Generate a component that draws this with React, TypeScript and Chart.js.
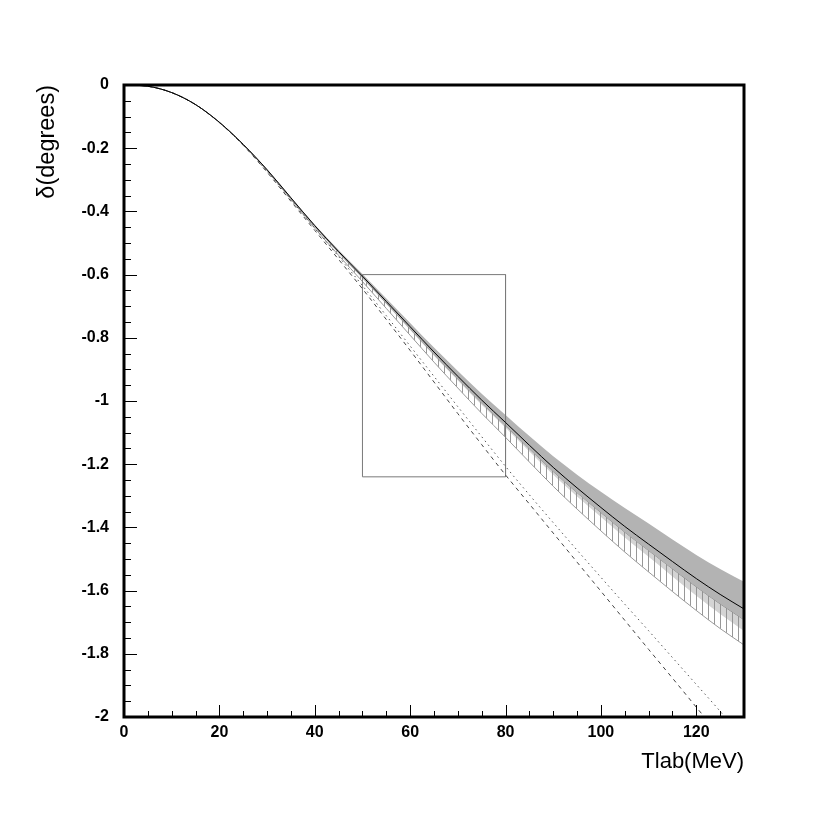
import React, { useEffect, useRef } from "react";
import { Chart, registerables } from "chart.js";

Chart.register(...registerables);

// Lab kinetic energy (MeV) sample points
const energies = [0, 5, 10, 15, 20, 25, 30, 35, 40, 45, 50, 55, 60, 65, 70, 75, 80, 85, 90, 95, 100, 105, 110, 115, 120, 125, 130];

// Central phase shift (degrees)
const centralPhase = [0, -0.004, -0.024, -0.062, -0.118, -0.188, -0.268, -0.357, -0.445, -0.527, -0.605, -0.685, -0.765, -0.845, -0.922, -0.997, -1.068, -1.14, -1.21, -1.275, -1.337, -1.397, -1.453, -1.508, -1.562, -1.612, -1.658];

// Dark gray error band
const grayUpper = [0, -0.004, -0.024, -0.062, -0.118, -0.188, -0.267, -0.355, -0.442, -0.522, -0.598, -0.676, -0.753, -0.831, -0.905, -0.977, -1.044, -1.111, -1.175, -1.233, -1.287, -1.339, -1.388, -1.438, -1.487, -1.532, -1.572];
const grayLower = [0, -0.004, -0.024, -0.062, -0.118, -0.188, -0.269, -0.359, -0.447, -0.53, -0.609, -0.69, -0.771, -0.852, -0.93, -1.006, -1.078, -1.151, -1.223, -1.29, -1.353, -1.415, -1.473, -1.531, -1.588, -1.642, -1.692];

// Light gray band lower edge (from central line)
const lightLower = [0, -0.004, -0.024, -0.062, -0.118, -0.188, -0.27, -0.36, -0.449, -0.533, -0.612, -0.693, -0.775, -0.857, -0.935, -1.012, -1.085, -1.16, -1.233, -1.302, -1.367, -1.432, -1.493, -1.555, -1.616, -1.674, -1.728];

// Hatched band lower edge (from central line)
const hatchLower = [0, -0.004, -0.024, -0.062, -0.118, -0.189, -0.271, -0.362, -0.453, -0.539, -0.622, -0.707, -0.792, -0.877, -0.959, -1.039, -1.115, -1.193, -1.27, -1.342, -1.411, -1.478, -1.541, -1.603, -1.663, -1.72, -1.772];

// Dashed curve
const dashedEnergies = [0, 5, 10, 15, 20, 25, 30, 35, 40, 45, 50, 55, 60, 65, 70, 75, 80, 85, 90, 95, 100, 105, 110, 115, 120, 121.7];
const dashedPhase = [0, -0.004, -0.024, -0.062, -0.119, -0.191, -0.276, -0.368, -0.46, -0.552, -0.645, -0.742, -0.84, -0.94, -1.04, -1.138, -1.234, -1.326, -1.418, -1.51, -1.602, -1.694, -1.786, -1.877, -1.969, -2.0];

// Dotted curve
const dottedEnergies = [0, 5, 10, 15, 20, 25, 30, 35, 40, 45, 50, 55, 60, 65, 70, 75, 80, 85, 90, 95, 100, 105, 110, 115, 120, 125, 126];
const dottedPhase = [0, -0.004, -0.024, -0.062, -0.119, -0.19, -0.273, -0.363, -0.453, -0.543, -0.635, -0.73, -0.826, -0.922, -1.018, -1.113, -1.207, -1.297, -1.385, -1.472, -1.558, -1.643, -1.727, -1.812, -1.897, -1.982, -2.0];

// Rectangle outline
const boxEnergies = [50, 80, 80, 50, 50];
const boxPhase = [-0.6, -0.6, -1.24, -1.24, -0.6];

// Axis ticks
const xTickValues = [0, 20, 40, 60, 80, 100, 120];
const xTickLabels = ["0", "20", "40", "60", "80", "100", "120"];
const xMinorTicks = [5, 10, 15, 25, 30, 35, 45, 50, 55, 65, 70, 75, 85, 90, 95, 105, 110, 115, 125];
const yTickValues = [0, -0.2, -0.4, -0.6, -0.8, -1, -1.2, -1.4, -1.6, -1.8, -2];
const yTickLabels = ["0", "-0.2", "-0.4", "-0.6", "-0.8", "-1", "-1.2", "-1.4", "-1.6", "-1.8", "-2"];
const yMinorTicks = [-0.05, -0.1, -0.15, -0.25, -0.3, -0.35, -0.45, -0.5, -0.55, -0.65, -0.7, -0.75, -0.85, -0.9, -0.95, -1.05, -1.1, -1.15, -1.25, -1.3, -1.35, -1.45, -1.5, -1.55, -1.65, -1.7, -1.75, -1.85, -1.9, -1.95];

const pts = (xs: number[], ys: number[]) => xs.map((x, i) => ({ x, y: ys[i] }));

const frameTicks = {
  id: "frameTicks",
  afterDatasetsDraw(chart: any) {
    const { ctx, chartArea: a, scales } = chart;
    const xs = scales.x;
    const ys = scales.y;
    ctx.save();
    ctx.strokeStyle = "#000";
    ctx.lineWidth = 1;
    ctx.beginPath();
    xTickValues.forEach((v) => {
      const px = Math.round(xs.getPixelForValue(v)) + 0.5;
      ctx.moveTo(px, a.bottom);
      ctx.lineTo(px, a.bottom - 12);
    });
    xMinorTicks.forEach((v) => {
      const px = Math.round(xs.getPixelForValue(v)) + 0.5;
      ctx.moveTo(px, a.bottom);
      ctx.lineTo(px, a.bottom - 6);
    });
    yTickValues.forEach((v) => {
      const py = Math.round(ys.getPixelForValue(v)) + 0.5;
      ctx.moveTo(a.left, py);
      ctx.lineTo(a.left + 13, py);
    });
    yMinorTicks.forEach((v) => {
      const py = Math.round(ys.getPixelForValue(v)) + 0.5;
      ctx.moveTo(a.left, py);
      ctx.lineTo(a.left + 7, py);
    });
    ctx.stroke();
    ctx.lineWidth = 3;
    ctx.strokeRect(a.left, a.top, a.right - a.left, a.bottom - a.top);
    ctx.restore();
  },
};

export default function App() {
  const canvasRef = useRef<HTMLCanvasElement | null>(null);

  useEffect(() => {
    const canvas = canvasRef.current;
    if (!canvas) return;
    const ctx = canvas.getContext("2d");
    if (!ctx) return;

    const pc = document.createElement("canvas");
    pc.width = 6;
    pc.height = 6;
    const pctx = pc.getContext("2d")!;
    pctx.fillStyle = "rgba(140,140,140,0.9)";
    pctx.fillRect(0, 0, 1, 6);
    const hatch = ctx.createPattern(pc, "repeat");

    const base = {
      pointRadius: 0,
      cubicInterpolationMode: "monotone" as const,
    };

    const chart = new Chart(ctx, {
      type: "line",
      data: {
        datasets: [
          // 0 central line
          { ...base, data: pts(energies, centralPhase), borderColor: "#000", borderWidth: 1, fill: false, order: 0 },
          // 1 dashed
          { ...base, data: pts(dashedEnergies, dashedPhase), borderColor: "#444", borderWidth: 1, borderDash: [4, 4], fill: false, order: 0 },
          // 2 dotted
          { ...base, data: pts(dottedEnergies, dottedPhase), borderColor: "#555", borderWidth: 1, borderDash: [1.5, 3.5], fill: false, order: 0 },
          // 3 rectangle
          { pointRadius: 0, data: pts(boxEnergies, boxPhase), borderColor: "#7a7a7a", borderWidth: 1, fill: false, tension: 0, order: 0 },
          // 4 gray band upper -> fill to 5
          { ...base, data: pts(energies, grayUpper), borderWidth: 0, borderColor: "rgba(0,0,0,0)", backgroundColor: "#b3b3b3", fill: 5, order: 1 },
          // 5 gray band lower edge
          { ...base, data: pts(energies, grayLower), borderWidth: 1, borderColor: "#8c8c8c", fill: false, order: 1 },
          // 6 hatched band lower -> fill to 7
          { ...base, data: pts(energies, hatchLower), borderWidth: 1, borderColor: "#999", backgroundColor: hatch as any, fill: 7, order: 2 },
          // 7 hatched band top (central)
          { ...base, data: pts(energies, centralPhase), borderWidth: 0, borderColor: "rgba(0,0,0,0)", fill: false, order: 2 },
          // 8 light gray band lower -> fill to 9
          { ...base, data: pts(energies, lightLower), borderWidth: 0, borderColor: "rgba(0,0,0,0)", backgroundColor: "#d4d4d4", fill: 9, order: 3 },
          // 9 light gray band top (central)
          { ...base, data: pts(energies, centralPhase), borderWidth: 0, borderColor: "rgba(0,0,0,0)", fill: false, order: 3 },
        ],
      },
      options: {
        responsive: false,
        animation: false,
        layout: { padding: { left: 0, right: 86, top: 85, bottom: 0 } },
        plugins: { legend: { display: false }, tooltip: { enabled: false } },
        scales: {
          x: {
            type: "linear",
            min: 0,
            max: 130,
            grid: { display: false, drawTicks: false },
            border: { display: false },
            afterBuildTicks: (s: any) => {
              s.ticks = xTickValues.map((v) => ({ value: v }));
            },
            afterFit: (s: any) => {
              s.height = 113;
            },
            ticks: {
              autoSkip: false,
              maxRotation: 0,
              padding: 6,
              color: "#000",
              font: { family: "'Liberation Sans', Arial, sans-serif", size: 16, weight: "bold" },
              callback: (_v: any, i: number) => xTickLabels[i],
            },
            title: {
              display: true,
              text: "Tlab(MeV)",
              align: "end",
              color: "#000",
              padding: { top: 0, bottom: 55 },
              font: { family: "'Liberation Sans', Arial, sans-serif", size: 22, weight: "normal" },
            },
          },
          y: {
            type: "linear",
            min: -2,
            max: 0,
            grid: { display: false, drawTicks: false },
            border: { display: false },
            afterBuildTicks: (s: any) => {
              s.ticks = yTickValues.map((v) => ({ value: v }));
            },
            afterFit: (s: any) => {
              s.width = 124;
            },
            ticks: {
              autoSkip: false,
              padding: 15,
              color: "#000",
              font: { family: "'Liberation Sans', Arial, sans-serif", size: 16, weight: "bold" },
              callback: (_v: any, i: number) => yTickLabels[i],
            },
            title: {
              display: true,
              text: "δ(degrees)",
              align: "end",
              color: "#000",
              padding: { top: 33, bottom: 0 },
              font: { family: "'Liberation Sans', Arial, sans-serif", size: 23.5, weight: "normal" },
            },
          },
        },
      },
      plugins: [frameTicks],
    });

    return () => chart.destroy();
  }, []);

  return (
    <div style={{ position: "absolute", left: 0, top: 0, width: 830, height: 830, background: "#fff" }}>
      <canvas ref={canvasRef} width={830} height={830} style={{ display: "block" }} />
    </div>
  );
}
